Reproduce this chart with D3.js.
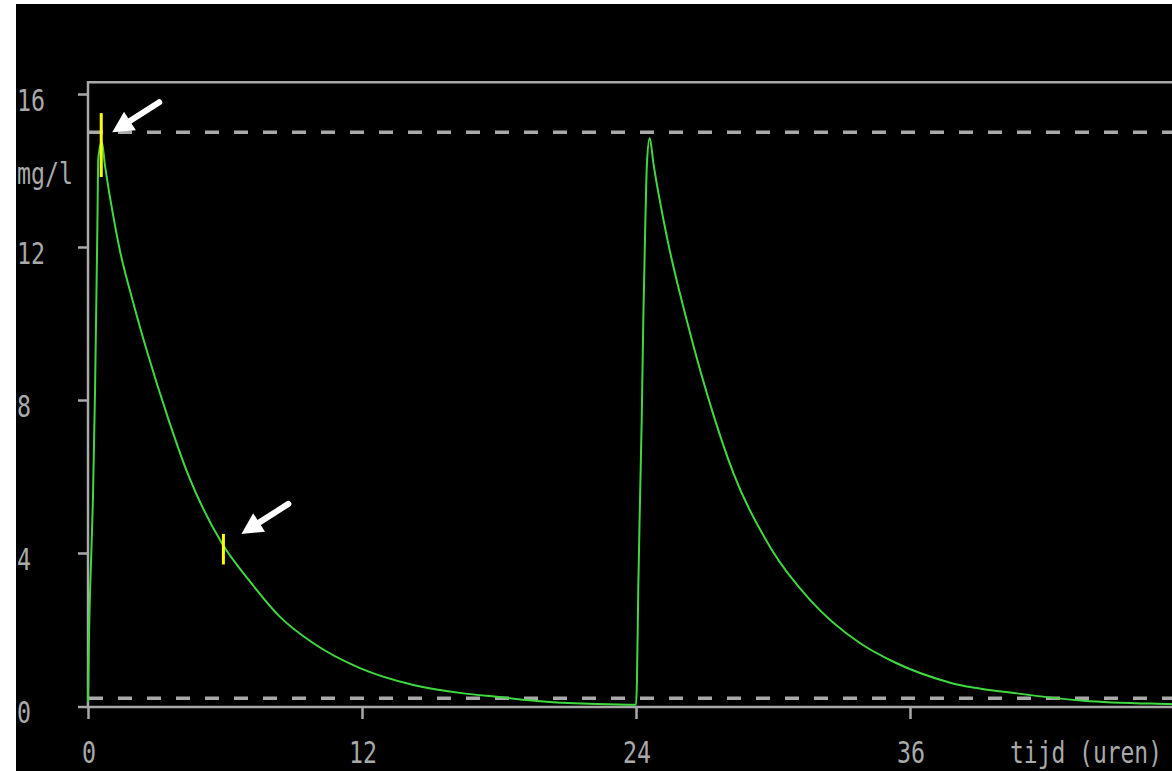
<!DOCTYPE html>
<html>
<head>
<meta charset="utf-8">
<script src="https://cdn.jsdelivr.net/npm/d3@7"></script>
<style>
  html, body { margin: 0; padding: 0; background: #fff; }
  svg { display: block; }
</style>
</head>
<body>
<svg id="chart" width="1172" height="771"></svg>
<script>
// time (hours) and concentration (mg/l)
const timeHours = [0, 0.05, 0.145, 0.22, 0.31, 0.41, 0.45, 0.6, 0.75, 1.11, 1.4, 1.91, 2.57, 3.52, 4.35, 5.86, 7.1, 8.41, 9.87, 11.91, 14.25, 16.44, 17.9, 20.09, 22.28, 24.0,
    24.04, 24.1, 24.18, 24.25, 24.32, 24.4, 24.48, 24.6, 24.76, 25.35, 26.22, 27.46, 28.27, 29.95, 31.63, 33.82, 35.3, 37.76, 40.68, 43.6, 47.4, 48];
const concentration = [0.1, 2.0, 4.0, 5.5, 8.3, 12.5, 14.3, 14.75, 14.1, 12.8, 11.9, 10.7, 9.3, 7.5, 6.1, 4.26, 3.25, 2.33, 1.64, 0.99, 0.55, 0.33, 0.24, 0.11, 0.05, 0.03,
    0.6, 3.1, 5.5, 7.5, 10.1, 12.4, 14.2, 14.85, 14.2, 12.27, 10.09, 7.48, 6.08, 4.08, 2.77, 1.64, 1.15, 0.61, 0.33, 0.14, 0.05, 0.04];

const yTicks = [0, 4, 8, 12, 16];
const xTicks = [0, 12, 24, 36];
const limitLines = [15, 0.2];           // dashed levels (mg/l)
const markerTimes = [0.58, 5.93];        // yellow sample markers
const markerLow = [13.83, 3.7];
const markerHigh = [15.5, 4.5];

const svg = d3.select('#chart');
const grey = '#a9a9a9';
const font = '"DejaVu Sans Mono", "Liberation Mono", monospace';

const x = d3.scaleLinear().domain([0, 48]).range([88, 1184]);
const y = d3.scaleLinear().domain([0, 16]).range([706, 94]);

// black screen
svg.append('rect').attr('x', 16).attr('y', 4).attr('width', 1172 - 16).attr('height', 771 - 4).attr('fill', '#000');

// frame
const frameTop = y(16.31);
svg.append('path')
    .attr('d', 'M1172,' + frameTop + 'H' + x(0) + 'V' + (y(0) + 1) + 'H1172')
    .attr('fill', 'none').attr('stroke', grey).attr('stroke-width', 2.5);
svg.append('line')
    .attr('x1', x(0) - 10).attr('x2', x(0)).attr('y1', y(0) + 1).attr('y2', y(0) + 1)
    .attr('stroke', grey).attr('stroke-width', 2.5);

// ticks
const yAxis = svg.append('g').attr('transform', 'translate(' + x(0) + ',0)')
    .call(d3.axisLeft(y).tickValues(yTicks.slice(1)).tickSize(10).tickSizeOuter(0).tickFormat(''));
const xAxis = svg.append('g').attr('transform', 'translate(0,' + (y(0) + 1) + ')')
    .call(d3.axisBottom(x).tickValues(xTicks).tickSize(12).tickSizeOuter(0).tickFormat(''));
[yAxis, xAxis].forEach(function (g) {
    g.select('.domain').remove();
    g.selectAll('line').attr('stroke', grey).attr('stroke-width', 2.5);
});

// labels
function label(sel) {
    sel.attr('fill', grey)
        .attr('font-family', font)
        .attr('font-size', 31)
        .attr('textLength', function (d) { return String(d).length * 14; })
        .attr('lengthAdjust', 'spacingAndGlyphs')
        .text(function (d) { return d; });
}
svg.append('g').selectAll('text').data(yTicks).join('text')
    .attr('x', 17).attr('y', function (d) { return y(d) + 17; })
    .call(label);
svg.append('g').selectAll('text').data(xTicks).join('text')
    .attr('x', function (d) { return x(d) - String(d).length * 7 + 1; })
    .attr('y', 763)
    .call(label);
svg.append('text').datum('mg/l').attr('x', 17).attr('y', 184).call(label);
svg.append('text').datum('tijd (uren)').attr('x', 1010).attr('y', 763)
    .call(label).attr('textLength', 152);

// dashed limit lines
svg.append('g').selectAll('line').data(limitLines).join('line')
    .attr('x1', x(0) + 1).attr('x2', 1172)
    .attr('y1', function (d) { return y(d); }).attr('y2', function (d) { return y(d); })
    .attr('stroke', grey).attr('stroke-width', 3.5).attr('stroke-dasharray', '14 15');

// concentration curve
const points = timeHours.map(function (t, i) { return [t, concentration[i]]; });
svg.append('path')
    .datum(points)
    .attr('fill', 'none')
    .attr('stroke', '#3fd93f')
    .attr('stroke-width', 2)
    .attr('d', d3.line().curve(d3.curveMonotoneX)
        .x(function (d) { return x(d[0]); }).y(function (d) { return y(d[1]); }));

// yellow markers
svg.append('g').selectAll('line').data(markerTimes).join('line')
    .attr('x1', function (d) { return x(d); }).attr('x2', function (d) { return x(d); })
    .attr('y1', function (d, i) { return y(markerHigh[i]); })
    .attr('y2', function (d, i) { return y(markerLow[i]); })
    .attr('stroke', '#ffff00').attr('stroke-width', 3);

// white arrows pointing at the markers
const arrowTips = markerTimes.map(function (t, i) {
    return i === 0 ? [x(t) + 11, y(15)] : [x(t) + 18, y(markerHigh[i])];
});
const dir = [47, -30];
const len = Math.hypot(dir[0], dir[1]);
const u = [dir[0] / len, dir[1] / len];
const p = [-u[1], u[0]];
const arrows = svg.append('g');
arrowTips.forEach(function (tip) {
    const base = [tip[0] + u[0] * 21, tip[1] + u[1] * 21];
    arrows.append('line')
        .attr('x1', base[0] - u[0] * 2).attr('y1', base[1] - u[1] * 2)
        .attr('x2', tip[0] + dir[0]).attr('y2', tip[1] + dir[1])
        .attr('stroke', '#fff').attr('stroke-width', 6).attr('stroke-linecap', 'round');
    arrows.append('path')
        .attr('d', 'M' + tip[0] + ',' + tip[1] +
            'L' + (base[0] + p[0] * 11) + ',' + (base[1] + p[1] * 11) +
            'L' + (base[0] - p[0] * 11) + ',' + (base[1] - p[1] * 11) + 'Z')
        .attr('fill', '#fff');
});
</script>
</body>
</html>
